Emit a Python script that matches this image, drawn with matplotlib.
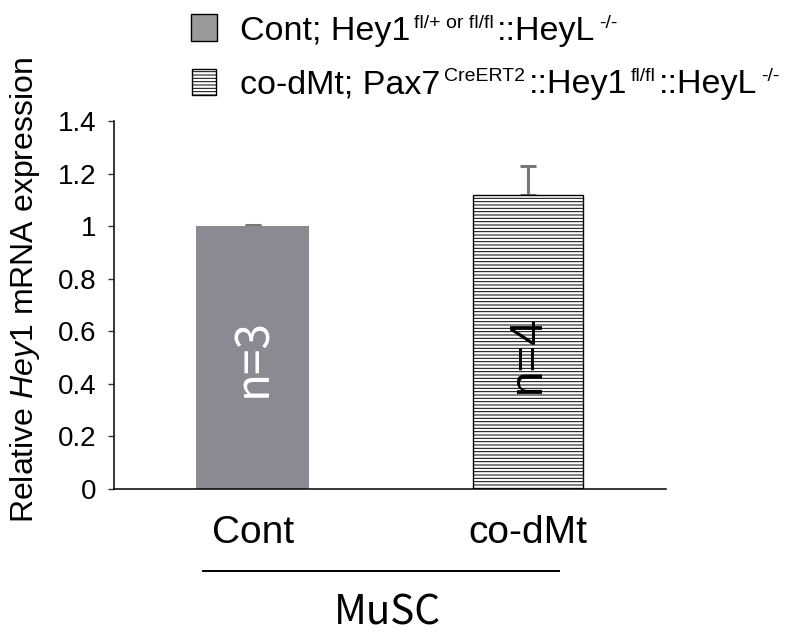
"""Relative Hey1 mRNA expression in MuSC: control vs co-dMt (bar chart with SEM)."""

import matplotlib
matplotlib.use("Agg")
import matplotlib.pyplot as plt
from matplotlib.patches import Rectangle
from matplotlib.lines import Line2D

groups = ["Cont", "co-dMt"]
means = [1.0, 1.117]
errors = [0.003, 0.11]
n_labels = ["n=3", "n=4"]
n_label_heights = [0.50, 0.51]
yticks = [0, 0.2, 0.4, 0.6, 0.8, 1, 1.2, 1.4]
ytick_labels = ["0", "0.2", "0.4", "0.6", "0.8", "1", "1.2", "1.4"]
legend_rows = [
    [("Cont; Hey1", False), ("fl/+ or fl/fl", True), ("::HeyL", False), ("-/-", True)],
    [("co-dMt; Pax7", False), ("CreERT2", True), ("::Hey1", False), ("fl/fl", True),
     ("::HeyL", False), ("-/-", True)],
]

plt.rcParams.update({
    "font.family": ["Liberation Sans", "DejaVu Sans"],
    "mathtext.fontset": "custom",
    "mathtext.rm": "Liberation Sans",
    "mathtext.it": "Liberation Sans:italic",
    "hatch.linewidth": 0.7,
})

W, H = 795, 637
fig = plt.figure(figsize=(W / 100, H / 100), dpi=100)
ax = fig.add_axes([114 / W, 1 - 489 / H, (666 - 114) / W, (489 - 121) / H])

x = [0, 1]
bar_grey = "#8a8b92"
ax.bar(x[0], means[0], width=0.41, color=bar_grey, edgecolor="none", zorder=2)
ax.bar(x[1], means[1], width=0.40, color="white", edgecolor="black", linewidth=1.0,
       hatch="-----", zorder=2)
for xi, m, e in zip(x, means, errors):
    ax.errorbar(xi, m, yerr=[[0], [e]], color="#777777", elinewidth=2.2, capsize=5.5,
                capthick=2.2, zorder=1)

ax.text(x[0], n_label_heights[0], n_labels[0], rotation=90, ha="center", va="center",
        color="white", fontsize=33, family=["Noto Sans CJK JP", "DejaVu Sans"], zorder=3)
ax.text(x[1], n_label_heights[1], n_labels[1], rotation=90, ha="center", va="center",
        color="black", fontsize=33, zorder=3)

ax.set_xlim(-0.503, 1.5)
ax.set_ylim(0, 1.4)
ax.set_yticks(yticks)
ax.set_yticklabels(ytick_labels)
ax.set_xticks(x)
ax.set_xticklabels(groups, fontsize=28)
ax.tick_params(axis="x", length=0, pad=19)
ax.tick_params(axis="y", labelsize=20, length=4.5, width=1.0, pad=8, color="#333333")
for side in ("top", "right"):
    ax.spines[side].set_visible(False)
for side in ("left", "bottom"):
    ax.spines[side].set_linewidth(1.1)
ax.set_ylabel(r"Relative $\mathit{Hey1}$ mRNA expression", fontsize=23)
ax.yaxis.set_label_coords(-0.13, 0.54)


def px(xp, yp):
    return xp / W, 1 - yp / H


# bracket under the categories with the cell type label
fig.add_artist(Line2D([203 / W, 559 / W], [1 - 571 / H] * 2, color="black", linewidth=1.4))
fig.text(*px(387, 613), "MuSC", ha="center", va="center", fontsize=29,
         family=["Noto Sans CJK JP", "DejaVu Sans"])

# legend drawn by hand so the genotype superscripts can be small
fig.add_artist(Rectangle(px(191, 41), 26 / W, 27 / H, transform=fig.transFigure,
                         facecolor="#999999", edgecolor="black", linewidth=1.0))
fig.add_artist(Rectangle(px(192, 95), 24 / W, 26 / H, transform=fig.transFigure,
                         facecolor="white", edgecolor="black", linewidth=1.0,
                         hatch="-----"))

renderer = fig.canvas.get_renderer()
for baseline, pieces in zip([40, 93], legend_rows):
    cursor = 240
    for piece, superscript in pieces:
        if superscript:
            cursor += 4
        size = 14 if superscript else 24.5
        lift = 12 if superscript else 0
        t = fig.text(*px(cursor, baseline - lift), piece, fontsize=size,
                     ha="left", va="baseline")
        cursor += t.get_window_extent(renderer).width
        if superscript:
            cursor += 3

fig.savefig("out.png", dpi=100)
